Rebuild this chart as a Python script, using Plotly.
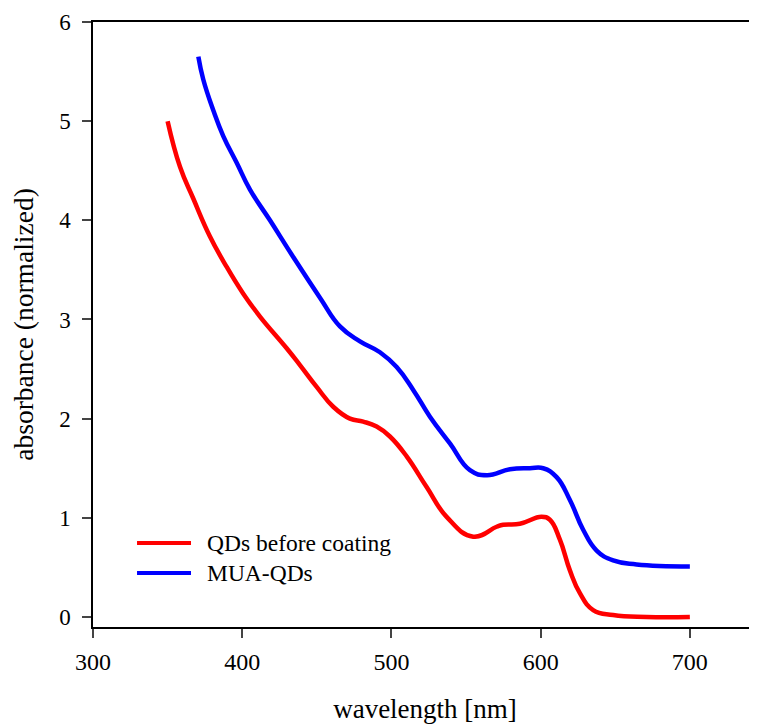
import plotly.graph_objects as go

# ---- data ----
red_wl = [350, 358.3, 367.2, 378.3, 389.6, 400.7, 411.9, 429.8, 438.7, 449.9, 461.0, 472.2,
          481.1, 490.1, 499.0, 510.2, 523.6, 537.0, 554.8, 570.5, 574.9, 586.1, 600.6,
          606.2, 612.9, 619.6, 626.3, 635.2, 648.6, 671, 700]
red_abs = [5.00, 4.54, 4.22, 3.84, 3.53, 3.26, 3.03, 2.71, 2.54, 2.32, 2.12, 2.00,
           1.97, 1.92, 1.82, 1.62, 1.31, 1.01, 0.81, 0.91, 0.93, 0.94, 1.01,
           0.98, 0.78, 0.47, 0.24, 0.07, 0.02, 0.00, 0.00]

blue_wl = [370.6, 373.9, 380.6, 387.3, 396.3, 405.2, 418.6, 434.2, 452.1, 465.5, 478.9,
           492.3, 503.5, 514.6, 525.8, 539.2, 552.6, 564.0, 579.4, 592.8, 601.7, 610.7,
           619.6, 628.5, 637.5, 648.6, 664.3, 700]
blue_abs = [5.65, 5.42, 5.11, 4.85, 4.58, 4.31, 4.00, 3.63, 3.22, 2.93, 2.78,
            2.67, 2.52, 2.29, 2.02, 1.75, 1.48, 1.43, 1.49, 1.50, 1.50, 1.41,
            1.18, 0.88, 0.67, 0.57, 0.53, 0.51]

series_names = ["QDs before coating", "MUA-QDs"]
series_colors = ["#ff0000", "#0000ff"]

x_ticks = [300, 400, 500, 600, 700]
y_ticks = [0, 1, 2, 3, 4, 5, 6]

FONT = "Liberation Serif, Times New Roman, serif"

fig = go.Figure()
for wl, ab, name, col in [(red_wl, red_abs, series_names[0], series_colors[0]),
                          (blue_wl, blue_abs, series_names[1], series_colors[1])]:
    fig.add_trace(go.Scatter(x=wl, y=ab, mode="lines", name=name,
                             line=dict(color=col, width=4.5, shape="spline", smoothing=1.3),
                             showlegend=False))

# manual legend (paper coordinates)
leg_y = [0.1388, 0.0893]
for i, (name, col) in enumerate(zip(series_names, series_colors)):
    fig.add_shape(type="line", xref="paper", yref="paper",
                  x0=0.0663, x1=0.1476, y0=leg_y[i], y1=leg_y[i],
                  line=dict(color=col, width=4))
    fig.add_annotation(xref="paper", yref="paper", x=0.1687, y=leg_y[i],
                       text=name, showarrow=False, xanchor="left", yanchor="middle",
                       font=dict(family=FONT, size=23.5, color="black"))

# page body has an 8px default margin, so the figure is sized/shifted to compensate
fig.update_layout(
    width=749, height=716,
    margin=dict(l=85, r=0, t=14, b=97, autoexpand=False),
    paper_bgcolor="white", plot_bgcolor="white",
    font=dict(family=FONT, size=24, color="black"),
    xaxis=dict(range=[300, 745], tickvals=x_ticks, ticks="outside", ticklen=9,
               tickwidth=1.5, showline=True, linewidth=1.5, linecolor="black",
               mirror=True, showgrid=False, zeroline=False, automargin=False,
               ticklabelstandoff=3,
               tickfont=dict(family=FONT, size=24),
               title=dict(text="wavelength [nm]", standoff=34,
                          font=dict(family=FONT, size=27))),
    yaxis=dict(range=[-0.101, 6], tickvals=y_ticks, ticks="outside", ticklen=9,
               tickwidth=1.5, showline=True, linewidth=1.5, linecolor="black",
               showgrid=False, zeroline=False, automargin=False,
               ticklabelstandoff=7,
               tickfont=dict(family=FONT, size=23),
               title=dict(text="absorbance (normalized)", standoff=20,
                          font=dict(family=FONT, size=27.5))),
)

fig.write_html("out.html")
